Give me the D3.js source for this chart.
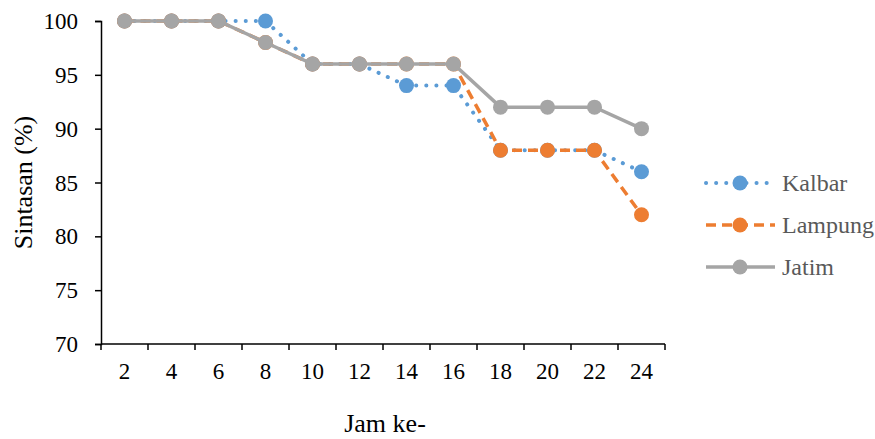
<!DOCTYPE html>
<html>
<head>
<meta charset="utf-8">
<script src="https://cdn.jsdelivr.net/npm/d3@7"></script>
<style>
  body { margin: 0; background: #fff; }
  text { font-family: "Liberation Serif", "Times New Roman", serif; }
</style>
</head>
<body>
<div id="chart"></div>
<script>
const jam = ['2', '4', '6', '8', '10', '12', '14', '16', '18', '20', '22', '24'];
const kalbar = [100, 100, 100, 100, 96, 96, 94, 94, 88, 88, 88, 86];
const lampung = [100, 100, 100, 98, 96, 96, 96, 96, 88, 88, 88, 82];
const jatim = [100, 100, 100, 98, 96, 96, 96, 96, 92, 92, 92, 90];
const yTicks = [70, 75, 80, 85, 90, 95, 100];

const series = [
    { nama: 'Kalbar', nilai: kalbar, warna: '#5B9BD5', dash: '0.1 10' },
    { nama: 'Lampung', nilai: lampung, warna: '#ED7D31', dash: '10 6' },
    { nama: 'Jatim', nilai: jatim, warna: '#A5A5A5', dash: null }
];

const largura = 875, altura = 439;
const margin = { top: 21, left: 101, right: 210, bottom: 95 };

const svg = d3.select('#chart')
    .append('svg')
    .attr('width', largura)
    .attr('height', altura);

const x = d3.scaleBand()
    .domain(jam)
    .range([margin.left, largura - margin.right]);

const y = d3.scaleLinear()
    .domain([70, 100])
    .range([altura - margin.bottom, margin.top]);

// sumbu y
const yAxis = svg.append('g')
    .attr('transform', `translate(${margin.left},0)`)
    .call(d3.axisLeft(y).tickValues(yTicks).tickSize(6).tickPadding(17));
yAxis.select('.domain').attr('stroke', '#000').attr('stroke-width', 1.5);
yAxis.selectAll('.tick line').attr('stroke', '#000').attr('stroke-width', 1.5);
yAxis.selectAll('.tick text').attr('font-size', 23).attr('fill', '#000')
    .attr('dy', '0.33em');

// sumbu x, tick di batas kategori
const xAxis = svg.append('g')
    .attr('transform', `translate(0,${y(70)})`);
xAxis.append('line')
    .attr('x1', margin.left).attr('x2', largura - margin.right)
    .attr('stroke', '#000').attr('stroke-width', 1.5);
const batas = jam.map(d => x(d)).concat([x(jam[jam.length - 1]) + x.bandwidth()]);
xAxis.selectAll('.tk')
    .data(batas)
    .enter()
    .append('line')
    .attr('x1', d => d).attr('x2', d => d)
    .attr('y1', 0).attr('y2', 6)
    .attr('stroke', '#000').attr('stroke-width', 1.5);
xAxis.selectAll('.lbl')
    .data(jam)
    .enter()
    .append('text')
    .attr('x', d => x(d) + x.bandwidth() / 2)
    .attr('y', 35)
    .attr('text-anchor', 'middle')
    .attr('font-size', 23)
    .text(d => d);

// judul sumbu
svg.append('text')
    .attr('transform', `translate(32,${(y(70) + y(100)) / 2}) rotate(-90)`)
    .attr('text-anchor', 'middle')
    .attr('font-size', 26)
    .text('Sintasan (%)');
svg.append('text')
    .attr('x', 385)
    .attr('y', 432)
    .attr('text-anchor', 'middle')
    .attr('font-size', 26)
    .text('Jam ke-');

const line = d3.line()
    .x((d, i) => x(jam[i]) + x.bandwidth() / 2)
    .y(d => y(d));

series.forEach(s => {
    const g = svg.append('g');
    g.append('path')
        .datum(s.nilai)
        .attr('d', line)
        .attr('fill', 'none')
        .attr('stroke', s.warna)
        .attr('stroke-width', s.dash === '0.1 10' ? 4 : 3.5)
        .attr('stroke-linecap', s.dash === '0.1 10' ? 'round' : 'butt')
        .attr('stroke-dasharray', s.dash);
    g.selectAll('circle')
        .data(s.nilai)
        .enter()
        .append('circle')
        .attr('cx', (d, i) => x(jam[i]) + x.bandwidth() / 2)
        .attr('cy', d => y(d))
        .attr('r', 7.5)
        .attr('fill', s.warna);
});

// legenda
const legenda = svg.append('g');
series.forEach((s, i) => {
    const ly = 183 + i * 42;
    legenda.append('line')
        .attr('x1', 706).attr('x2', 775)
        .attr('y1', ly).attr('y2', ly)
        .attr('stroke', s.warna)
        .attr('stroke-width', s.dash === '0.1 10' ? 4 : 3.5)
        .attr('stroke-linecap', s.dash === '0.1 10' ? 'round' : 'butt')
        .attr('stroke-dasharray', s.dash);
    legenda.append('circle')
        .attr('cx', 740).attr('cy', ly).attr('r', 7.5)
        .attr('fill', s.warna);
    legenda.append('text')
        .attr('x', 782).attr('y', ly + 8)
        .attr('font-size', 24)
        .attr('fill', '#595959')
        .text(s.nama);
});
</script>
</body>
</html>
